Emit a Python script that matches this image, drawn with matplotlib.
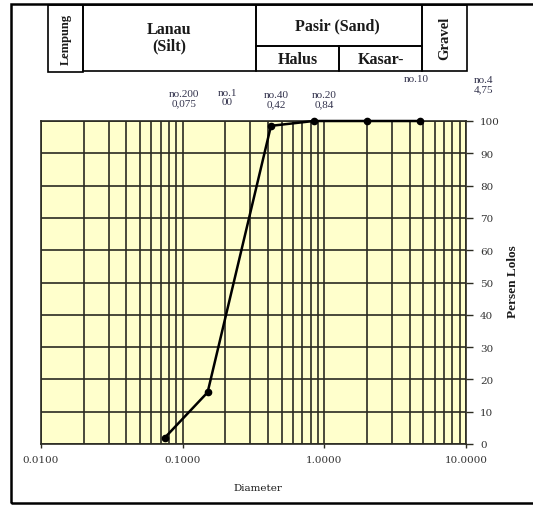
import matplotlib
matplotlib.use("Agg")
import matplotlib.pyplot as plt
from matplotlib.patches import Rectangle
from matplotlib.ticker import LogLocator, FixedLocator, FuncFormatter, NullFormatter

plt.rcParams['font.family'] = ['Liberation Serif', 'DejaVu Serif']

# ---- data ----
diameter = [0.075, 0.15, 0.42, 0.84, 2.0, 4.75]
persen_lolos = [2, 16, 98.5, 100, 100, 100]
y_ticks = [0, 10, 20, 30, 40, 50, 60, 70, 80, 90, 100]
x_ticks = [0.01, 0.1, 1.0, 10.0]
sieve_labels = ["no.200\n0,075", "no.1\n00", "no.40\n0,42", "no.20\n0,84", "no.10", "no.4\n4,75"]
header_labels = ["Lempung", "Lanau\n(Silt)", "Pasir (Sand)", "Halus", "Kasar-", "Gravel"]

W, H = 533, 506
fig = plt.figure(figsize=(W / 100, H / 100), dpi=100)

def fx(x):
    return x / W

def fy(y):
    return 1 - y / H

def box(x0, y0, x1, y1, lw=1.2):
    fig.patches.append(Rectangle((fx(x0), fy(y1)), fx(x1) - fx(x0), fy(y0) - fy(y1),
                                 transform=fig.transFigure, fill=False,
                                 edgecolor='black', linewidth=lw))

# outer frame
box(11, 5, 540, 504, lw=1.8)

# header table
box(48, 6, 83, 73)
box(83, 6, 256, 72)
box(256, 6, 422, 47)
box(256, 47, 339, 72)
box(339, 47, 422, 72)
box(422, 6, 467, 72)

tc = '#1a1a1a'
fig.text(fx(65.5), fy(39.5), header_labels[0], rotation=90, ha='center', va='center',
         fontsize=9, fontweight='bold', color=tc)
fig.text(fx(169), fy(38), header_labels[1], ha='center', va='center',
         fontsize=11.5, fontweight='bold', color=tc, linespacing=1.0)
fig.text(fx(337), fy(26), header_labels[2], ha='center', va='center',
         fontsize=11.5, fontweight='bold', color=tc)
fig.text(fx(297.5), fy(60), header_labels[3], ha='center', va='center',
         fontsize=11.5, fontweight='bold', color=tc)
fig.text(fx(380.5), fy(60), header_labels[4], ha='center', va='center',
         fontsize=11.5, fontweight='bold', color=tc)
fig.text(fx(444.5), fy(38), header_labels[5], rotation=90, ha='center', va='center',
         fontsize=10.5, fontweight='bold', color=tc)

# sieve annotations
sc = '#33334d'
sieve_pos = [(184, 99), (227, 98), (276, 100), (324, 100), (416, 79), (483, 85)]
for lab, (px, py) in zip(sieve_labels, sieve_pos):
    fig.text(fx(px), fy(py), lab, ha='center', va='center', fontsize=8,
             color=sc, linespacing=1.1)

# ---- axes ----
ax = fig.add_axes([fx(41), fy(445), fx(466) - fx(41), fy(122) - fy(445)])
ax.set_facecolor('#FFFFCC')
ax.set_xscale('log')
ax.set_xlim(0.01, 10)
ax.set_ylim(0, 100)

ax.xaxis.set_major_locator(FixedLocator(x_ticks))
ax.xaxis.set_minor_locator(LogLocator(base=10, subs=range(2, 10)))
ax.xaxis.set_major_formatter(FuncFormatter(lambda v, p: f"{v:.4f}"))
ax.xaxis.set_minor_formatter(NullFormatter())
ax.yaxis.set_major_locator(FixedLocator(y_ticks))

gc = '#2b2b22'
ax.grid(True, which='both', axis='x', color=gc, linewidth=1.2)
ax.grid(True, which='major', axis='y', color=gc, linewidth=1.2)
ax.set_axisbelow(True)

ax.yaxis.tick_right()
ax.tick_params(axis='y', which='major', direction='out', length=5, width=1,
               colors=gc, labelsize=7.5, labelcolor='#333333', pad=5)
ax.tick_params(axis='x', which='major', direction='out', length=3, width=1,
               colors=gc, labelsize=7.5, labelcolor='#333333', pad=5)
ax.tick_params(axis='x', which='minor', length=0)
for lab in ax.get_xticklabels() + ax.get_yticklabels():
    lab.set_family('DejaVu Serif')
for s in ax.spines.values():
    s.set_color(gc)
    s.set_linewidth(1.2)

ax.plot(diameter, persen_lolos, color='black', linewidth=1.8, marker='o',
        markersize=4.5, zorder=5, clip_on=False)

fig.text(fx(258), fy(489), "Diameter", ha='center', va='center', fontsize=7.5,
         color=tc, family='DejaVu Serif')
fig.text(fx(513), fy(282), "Persen Lolos", rotation=90, ha='center', va='center',
         fontsize=9.5, fontweight='bold', color=tc)

fig.savefig("out.png", dpi=100)
